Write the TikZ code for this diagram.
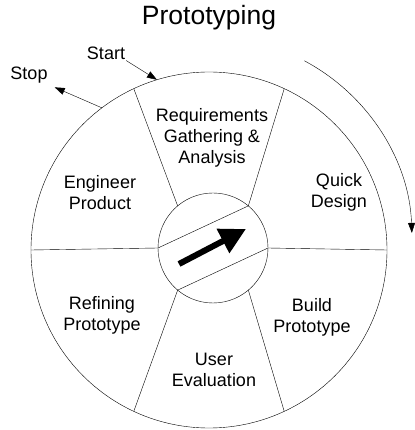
\documentclass[tikz,border=0pt]{standalone}
\usepackage{fontspec}
\setmainfont{Liberation Sans}
\usetikzlibrary{
  arrows.meta,
  calc,         % Calculations $...$
}
\def\myouter{178pt}
\def\myinner{55pt}
\def\myturn{203pt}
\tikzset{
  font=\fontsize{18}{21}\selectfont,
  x=1pt,
  y=1pt,
  line width=1.5pt,
  phase/.style={
    align=center,
    inner sep=0mm
  },
  small tip/.style={
    -{Triangle[length=10pt,width=7pt]}
  },
  big tip/.style={
    line width=6pt,
    -{Triangle[length=26pt,width=26pt]}
  }
}

\begin{document}
\begin{tikzpicture}
\useasboundingbox (-209,-180) rectangle (205,250);
% wheel
\coordinate (c) at (0,0);
\coordinate (m) at (4,2);
\draw (c) circle (\myouter);
\draw (m) circle (\myinner);
\foreach \o/\i [count=\k] in {0/0,65/50,115/130,180/180,245/230,295/310}
  \draw ($(c)+(\o:\myouter)$) coordinate (o\k) -- ($(m)+(\i:\myinner)$) coordinate (i\k);
\draw (i4) -- (i2);
\draw (i5) -- (i1);
\coordinate (a0) at (-30,-14);
\coordinate (a1) at (37,21);
\draw[big tip] (a0) -- (a1);
% phases
\node[phase] (req)    at (3,112)    {Requirements\\Gathering \&\\Analysis};
\node[phase] (quick)  at (130,58)   {Quick\\Design};
\node[phase] (build)  at (103,-67)  {Build\\Prototype};
\node[phase] (user)   at (5,-120)   {User\\Evaluation};
\node[phase] (refine) at (-107,-65) {Refining\\Prototype};
\node[phase] (eng)    at (-109,57)  {Engineer\\Product};
% title, start and stop
\node (title) at (0,232) {\fontsize{26.5}{30}\selectfont Prototyping};
\node[phase] (start) at (-103,197) {Start};
\node[phase] (stop)  at (-180,175) {Stop};
\coordinate (s) at ($(c)+(107:\myouter)$);
\coordinate (e) at ($(c)+(127:\myouter)$);
\draw[small tip] ($(start.south east)+(1,-1)$) -- (s);
\draw[small tip] (e) -- ($(stop.south east)+(7,-4)$);
% direction of turn
\coordinate (t) at (0,10);
\draw[small tip] ($(t)+(62:\myturn)$) arc[start angle=62,end angle=2,radius=\myturn];
\end{tikzpicture}
\end{document}
